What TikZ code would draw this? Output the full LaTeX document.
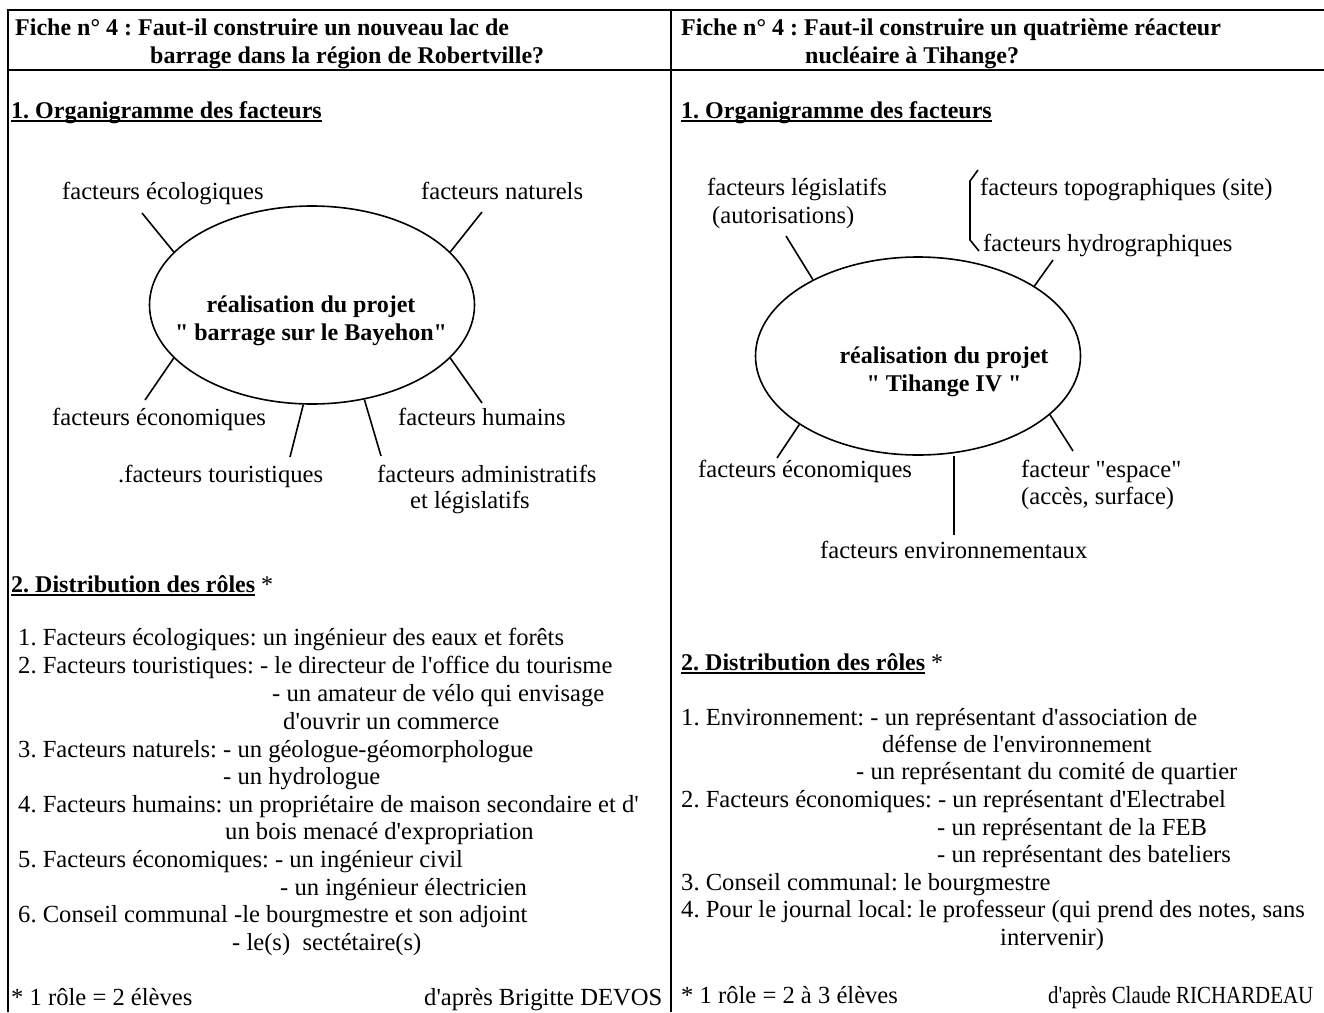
\documentclass[tikz,border=0pt]{standalone}
\usepackage{fontspec}
\setmainfont{Liberation Serif}[Ligatures=TeXOff]
\usetikzlibrary{shapes.geometric}
\newcommand\ulx[1]{\setbox0\hbox{#1}\rlap{\rule[-4pt]{\wd0}{1.8pt}}\box0}
\begin{document}
\frenchspacing
\begin{tikzpicture}[x=1pt,y=-1pt,
  every node/.style={font=\fontsize{24.6}{28}\selectfont, inner sep=0pt, anchor=base west},
  frame/.style={line width=1.6pt},
  leg/.style={line width=1.6pt},
  oval/.style={ellipse, draw, line width=1.6pt, anchor=center, minimum width=325pt, minimum height=198pt},
  ovaltext/.style={anchor=center, align=center, font=\fontsize{24}{28}\selectfont\bfseries},
  head/.style={font=\fontsize{24}{28}\selectfont\bfseries}]
\useasboundingbox (0,0) rectangle (1324,1012);
% table frame
\coordinate (tl) at (8,10);
\coordinate (tr) at (1330,10);
\coordinate (hl) at (8,70);
\coordinate (hr) at (1330,70);
\coordinate (bl) at (8,1012);
\coordinate (mt) at (671,10);
\coordinate (mb) at (671,1012);
\draw[frame] (tr) -- (tl) -- (bl);
\draw[frame] (hl) -- (hr);
\draw[frame] (mt) -- (mb);
% ===== left column =====
\node[head] (t1a) at (15,35) {Fiche n° 4 : Faut-il construire un nouveau lac de};
\node[head] (t1b) at (150,63) {barrage dans la région de Robertville?};
\node[head] (s1) at (11,118) {\ulx{1. Organigramme des facteurs}};
\node[oval] (E1) at (312,305) {};
\node[ovaltext] (E1t) at (311,321) {réalisation du projet\\" barrage sur le Bayehon"};
\node (eco) at (62,199) {facteurs écologiques};
\node (nat) at (421,199) {facteurs naturels};
\node (econ) at (52,425) {facteurs économiques};
\node (hum) at (398,425) {facteurs humains};
\node (tour) at (118,482) {.facteurs touristiques};
\node (adm) at (377,482) {facteurs administratifs};
\node (adm2) at (410,508) {et législatifs};
\coordinate (ceco) at (142,213);
\coordinate (cnat) at (482,212);
\coordinate (cecon) at (145,400);
\coordinate (chum) at (482,403);
\coordinate (ctour) at (290,457);
\coordinate (cadm) at (381,456);
\draw[leg] (E1.159) -- (ceco);
\draw[leg] (E1.21) -- (cnat);
\draw[leg] (E1.201) -- (cecon);
\draw[leg] (E1.339) -- (chum);
\draw[leg] (E1.265) -- (ctour);
\draw[leg] (E1.299) -- (cadm);
\node[font=\fontsize{24}{28}\selectfont] (s2) at (11,592) {\textbf{\ulx{2. Distribution des rôles}} *};
\node (l1) at (18,645) {1. Facteurs écologiques: un ingénieur des eaux et forêts};
\node (l2) at (18,673) {2. Facteurs touristiques: - le directeur de l'office du tourisme};
\node (l3) at (272,701) {- un amateur de vélo qui envisage};
\node (l4) at (283,729) {d'ouvrir un commerce};
\node (l5) at (18,757) {3. Facteurs naturels: - un géologue-géomorphologue};
\node (l6) at (223,784) {- un hydrologue};
\node (l7) at (18,812) {4. Facteurs humains: un propriétaire de maison secondaire et d'};
\node (l8) at (225,839) {un bois menacé d'expropriation};
\node (l9) at (18,867) {5. Facteurs économiques: - un ingénieur civil};
\node (l10) at (280,895) {- un ingénieur électricien};
\node (l11) at (18,922) {6. Conseil communal -le bourgmestre et son adjoint};
\node (l12) at (232,950) {- le(s)\ \ sectétaire(s)};
\node (f1) at (11,1005) {* 1 rôle = 2 élèves};
\node (f2) at (424,1005) {d'après Brigitte DEVOS};
% ===== right column =====
\node[head] (t2a) at (681,35) {Fiche n° 4 : Faut-il construire un quatrième réacteur};
\node[head] (t2b) at (805,63) {nucléaire à Tihange?};
\node[head] (s3) at (681,118) {\ulx{1. Organigramme des facteurs}};
\node[oval] (E2) at (918,356) {};
\node[ovaltext] (E2t) at (944,372) {réalisation du projet\\" Tihange IV "};
\node (leg1) at (707,195) {facteurs législatifs};
\node (leg2) at (712,223) {(autorisations)};
\node (topo) at (980,195) {facteurs topographiques (site)};
\node (hydro) at (983,251) {facteurs hydrographiques};
\node (recon) at (698,477) {facteurs économiques};
\node (esp1) at (1021,477) {facteur "espace"};
\node (esp2) at (1021,504) {(accès, surface)};
\node (env) at (820,558) {facteurs environnementaux};
\coordinate (b1) at (978,170);
\coordinate (b2) at (970,181);
\coordinate (b3) at (970,240);
\coordinate (b4) at (979,251);
\draw[leg] (b1) -- (b2) -- (b3) -- (b4);
\coordinate (cleg) at (786,236);
\coordinate (chyd) at (1053,260);
\coordinate (crecon) at (777,458);
\coordinate (cesp) at (1073,451);
\coordinate (cenv) at (954,535);
\draw[leg] (E2.144) -- (cleg);
\draw[leg] (E2.31) -- (chyd);
\draw[leg] (E2.210) -- (crecon);
\draw[leg] (E2.336) -- (cesp);
\draw[leg] (cenv) -- (cenv |- E2.south);
\node[font=\fontsize{24}{28}\selectfont] (s4) at (681,670) {\textbf{\ulx{2. Distribution des rôles}} *};
\node (r1) at (681,725) {1. Environnement: - un représentant d'association de};
\node (r2) at (882,752) {défense de l'environnement};
\node (r3) at (856,779) {- un représentant du comité de quartier};
\node (r4) at (681,807) {2. Facteurs économiques: - un représentant d'Electrabel};
\node (r5) at (937,835) {- un représentant de la FEB};
\node (r6) at (937,862) {- un représentant des bateliers};
\node (r7) at (681,890) {3. Conseil communal: le bourgmestre};
\node (r8) at (681,917) {4. Pour le journal local: le professeur (qui prend des notes, sans};
\node (r9) at (1000,945) {intervenir)};
\node (f3) at (681,1003) {* 1 rôle = 2 à 3 élèves};
\node (f4) at (1048,1003) {\scalebox{0.85}[1]{d'après Claude RICHARDEAU}};
\end{tikzpicture}
\end{document}
